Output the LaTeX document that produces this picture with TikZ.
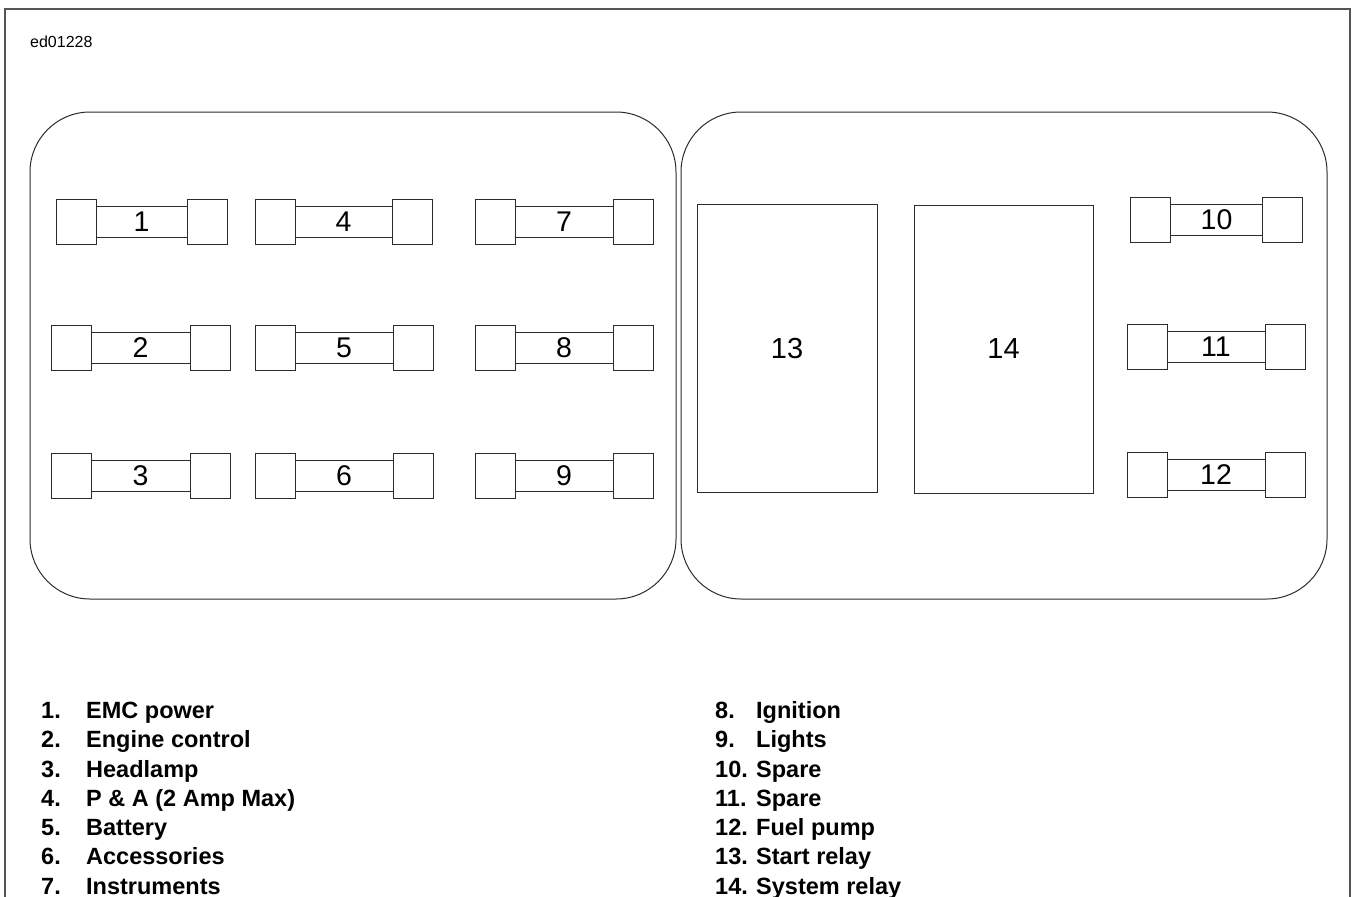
\documentclass[tikz,border=0pt]{standalone}
\usepackage{fontspec}
\setmainfont{Liberation Sans}
\usetikzlibrary{positioning}
\definecolor{frameLine}{HTML}{555555}
\definecolor{partLine}{HTML}{2B2B2B}

\begin{document}
\begin{tikzpicture}[
  x=1pt, y=-1pt,
  node distance=0pt,
  panel/.style={draw=partLine, line width=1pt, rounded corners=60pt,
    minimum width=646pt, minimum height=487pt, inner sep=0pt, outer sep=0pt},
  fusebody/.style={draw=partLine, line width=1pt, minimum height=31pt,
    inner sep=0pt, outer sep=0pt, font=\fontsize{28.5}{32}\selectfont},
  fusecap/.style={draw=partLine, line width=1pt, minimum width=40pt,
    minimum height=45pt, inner sep=0pt, outer sep=0pt},
  relay/.style={draw=partLine, line width=1pt, minimum width=180pt,
    minimum height=288pt, inner sep=0pt, font=\fontsize{29}{33}\selectfont},
  legnum/.style={anchor=base west, inner sep=0pt,
    font=\fontsize{23.5}{27}\selectfont\bfseries},
  idtag/.style={anchor=base west, inner sep=0pt, font=\fontsize{16}{19}\selectfont}
]
\useasboundingbox (0,0) rectangle (1355,897);

% =========================================================
% FRAME
% =========================================================

\draw[frameLine, line width=1.3pt] (5,897) -- (5,9) -- (1350,9) -- (1350,897);
\node[idtag] (figid) at (30,47) {ed01228};

% =========================================================
% FUSE BLOCKS
% =========================================================

\node[panel] (fuseblock) at (353,355.5) {};
\node[panel] (relayblock) at (1004,355.5) {};

% Fuses: body with number, cap on each side
\foreach \n/\x/\y/\w in {
  1/141.5/221.5/91, 4/343.5/221.5/97, 7/564/221.5/98,
  2/140.5/347.5/99, 5/344/347.5/98, 8/564/347.5/98,
  3/140.5/476/99, 6/344/476/98, 9/564/476/98,
  10/1216.5/220/92, 11/1216/347/98, 12/1216/475/98
}{
  \node[fusebody, minimum width=\w pt] (f\n) at (\x,\y) {\n};
  \node[fusecap, left=of f\n] (f\n l) {};
  \node[fusecap, right=of f\n] (f\n r) {};
}

% Relays
\node[relay] (r13) at (787,348.5) {13};
\node[relay, minimum width=179pt] (r14) at (1003.5,349) {14};

% =========================================================
% LEGEND
% =========================================================

\foreach \n/\txt [count=\i] in {
  1./EMC power, 2./Engine control, 3./Headlamp,
  4./{P \& A (2 Amp Max)}, 5./Battery, 6./Accessories, 7./Instruments
}{
  \node[legnum] (legnum\i) at (41,{718.4+29.3*(\i-1)}) {\n};
  \node[legnum] (legtxt\i) at (86,{718.4+29.3*(\i-1)}) {\txt};
}

\foreach \n/\txt [count=\i from 8] in {
  8./Ignition, 9./Lights, 10./Spare, 11./Spare,
  12./Fuel pump, 13./Start relay, 14./System relay
}{
  \node[legnum] (legnum\i) at (715,{718.4+29.3*(\i-8)}) {\n};
  \node[legnum] (legtxt\i) at (756,{718.4+29.3*(\i-8)}) {\txt};
}

\end{tikzpicture}
\end{document}
